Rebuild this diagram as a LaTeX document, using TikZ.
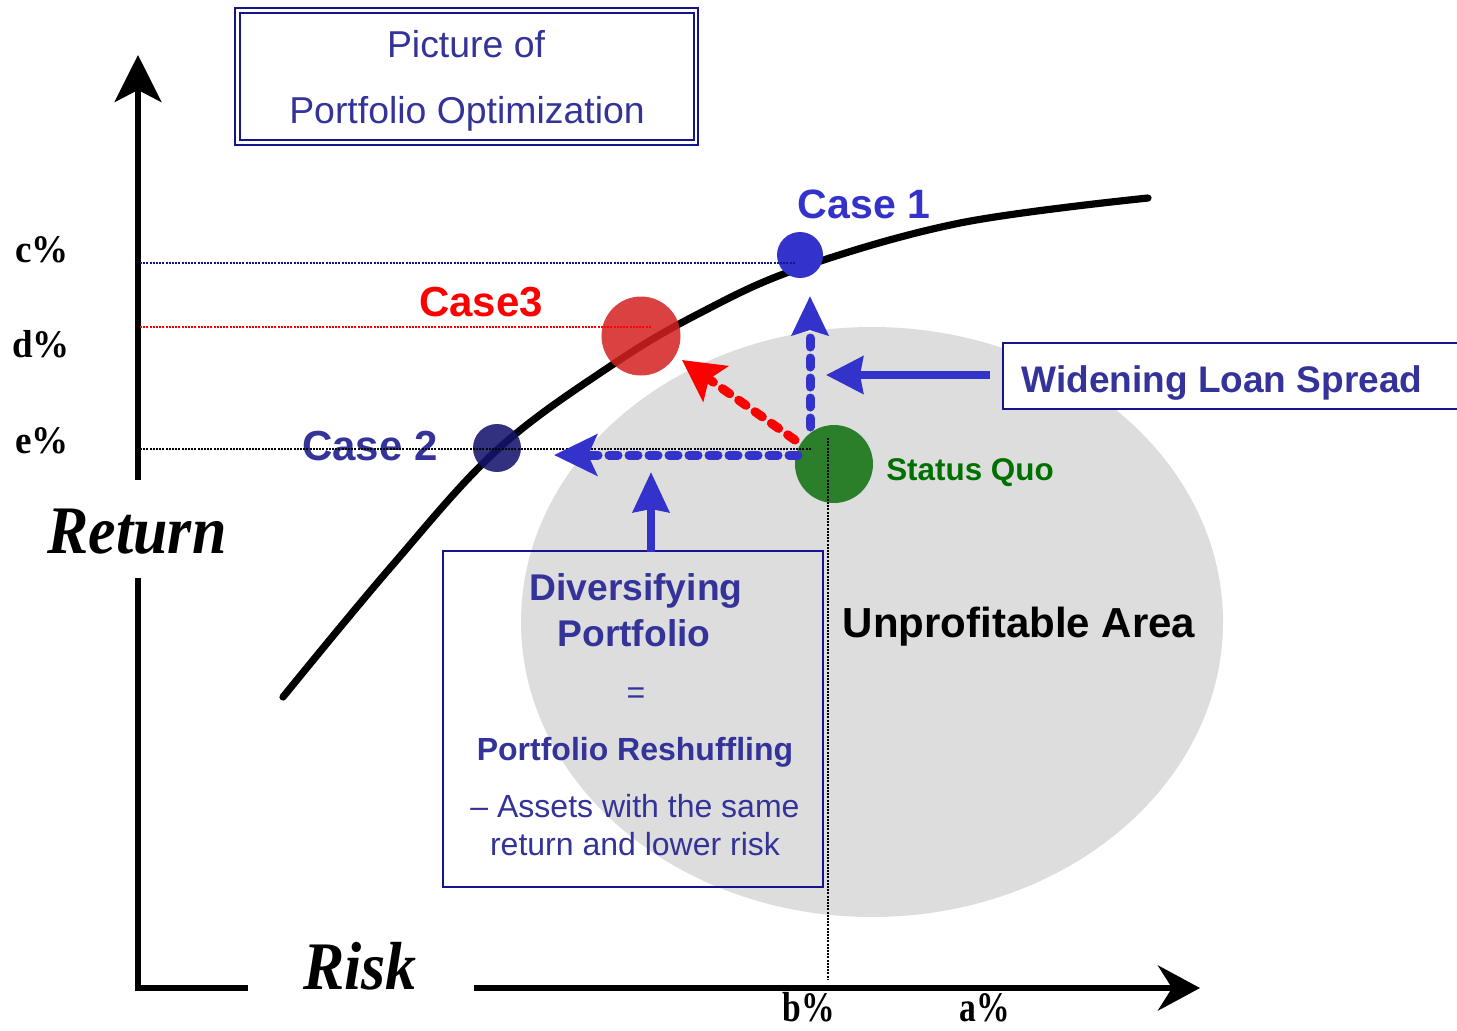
\documentclass[tikz,border=0pt]{standalone}
\usepackage{fontspec}
\usepackage{graphicx}
\setmainfont{Liberation Sans}
\newfontfamily\tnr{Liberation Serif}
\usetikzlibrary{arrows.meta}
\definecolor{boxnavy}{RGB}{20,20,140}
\definecolor{txtblue}{RGB}{51,51,153}
\definecolor{brightblue}{RGB}{51,51,204}
\definecolor{circred}{RGB}{212,32,32}
\definecolor{circnavy}{RGB}{20,20,110}
\definecolor{circgreen}{RGB}{28,120,28}
\definecolor{sqgreen}{RGB}{0,112,0}
\definecolor{areagray}{RGB}{221,221,221}
\newcommand\myfs[1]{\fontsize{#1}{#1}\selectfont}
\tikzset{
  txt/.style={inner sep=0pt, anchor=base},
  guide/.style={line width=0.65pt, dash pattern=on 1pt off 0.6pt},
  dasharrow/.style={line width=4.5pt, line cap=round, dash pattern=on 4.5pt off 5.5pt},
  solidarrow/.style={line width=3.8pt, color=brightblue},
  axis/.style={line width=3.2pt, black, line join=miter},
  dot/.style={circle, inner sep=0pt, draw=none},
}
\begin{document}
\begin{tikzpicture}[x=0.5pt,y=-0.5pt]
\useasboundingbox (0,0) rectangle (1457,1030);

% unprofitable area
\fill[areagray] (872,622) ellipse [x radius=351, y radius=295];

% title box
\draw[boxnavy, line width=1.1pt] (235,8) rectangle (698,145);
\draw[boxnavy, line width=1.1pt] (240,13) rectangle (694,140);
\node[txt, txtblue, font=\myfs{18.7}] (t1) at (466,57) {Picture of};
\node[txt, txtblue, font=\myfs{18.7}] (t2) at (467,123) {Portfolio Optimization};

% axes
\coordinate (ytop) at (138,55);
\coordinate (ygap1) at (138,480);
\coordinate (ygap2) at (138,578);
\coordinate (origin) at (138,988);
\coordinate (xgap1) at (248,988);
\coordinate (xgap2) at (474,988);
\coordinate (xtip) at (1200,988);
\draw[axis, -{Stealth[length=23.5pt, width=23.5pt, inset=6pt]}] (ygap1) -- (ytop);
\draw[axis] (ygap2) -- (origin) -- (xgap1);
\draw[axis, -{Stealth[length=21pt, width=22.5pt, inset=7pt]}] (xgap2) -- (xtip);

\node[txt, font={\tnr\bfseries\itshape\myfs{34}}] (ret) at (137,553) {\scalebox{0.91}[1]{Return}};
\node[txt, font={\tnr\bfseries\itshape\myfs{34}}] (risk) at (360,989) {\scalebox{0.91}[1]{Risk}};
\node[txt, font={\tnr\bfseries\myfs{19.5}}] (lc) at (42,262) {\scalebox{0.95}[1]{c\%}};
\node[txt, font={\tnr\bfseries\myfs{19.5}}] (ld) at (41,357) {\scalebox{0.95}[1]{d\%}};
\node[txt, font={\tnr\bfseries\myfs{19.5}}] (le) at (42,453) {\scalebox{0.95}[1]{e\%}};
\node[txt, font={\tnr\bfseries\myfs{21}}] (lb) at (809,1021) {\scalebox{0.8}[1]{b\%}};
\node[txt, font={\tnr\bfseries\myfs{21}}] (la) at (985,1021) {\scalebox{0.8}[1]{a\%}};

% Case 2 label (under guide line)
\node[txt, txtblue, font={\bfseries\myfs{21}}] (c2l) at (370,460) {Case 2};

% efficient frontier
\draw[line width=3.6pt, line cap=round] plot[smooth, tension=0.6] coordinates
  {(283,697) (390,568) (497,450) (612,365) (700,313) (800,268) (960,223) (1148,198)};

% circles
\node[dot, fill=brightblue, minimum size=23pt] (case1) at (800,255) {};
\node[dot, fill=circred, fill opacity=0.85, minimum size=39.5pt] (case3) at (641,336) {};
\node[dot, fill=circnavy, fill opacity=0.88, minimum size=24pt] (case2) at (497,448) {};
\node[dot, fill=circgreen, fill opacity=0.92, minimum size=39pt] (sq) at (834,464) {};

% guide lines
\coordinate (gc0) at (140,263); \coordinate (gc1) at (796,263);
\coordinate (gd0) at (140,327); \coordinate (gd1) at (652,327);
\coordinate (ge0) at (140,449); \coordinate (ge1) at (812,449);
\coordinate (gv0) at (828,438); \coordinate (gv1) at (828,980);
\draw[guide, boxnavy] (gc0) -- (gc1);
\draw[guide, red] (gd0) -- (gd1);
\draw[guide, black] (ge0) -- (ge1);
\draw[guide, black] (gv0) -- (gv1);

% dashed arrows from status quo
\coordinate (hs) at (798,455); \coordinate (ht) at (554,455);
\coordinate (vs) at (810,427); \coordinate (vt) at (810,296);
\coordinate (rs) at (795,440); \coordinate (rt) at (682,360);
\draw[dasharrow, brightblue, -{Stealth[length=21.5pt, width=20.5pt, inset=4.5pt]}] (hs) -- (ht);
\draw[dasharrow, brightblue, -{Stealth[length=19.5pt, width=18pt, inset=2.5pt]}] (vs) -- (vt);
\draw[dasharrow, red, -{Stealth[length=20.5pt, width=21.5pt, inset=4pt]}] (rs) -- (rt);

% Widening Loan Spread box
\filldraw[draw=boxnavy, fill=white, line width=1pt] (1457,343) -- (1003,343) -- (1003,409) -- (1457,409);
\node[txt, txtblue, font={\bfseries\myfs{18.5}}] (wls) at (1222,392) {Widening Loan Spread};
\coordinate (wa0) at (990,375); \coordinate (wa1) at (826,375);
\draw[solidarrow, -{Stealth[length=18.5pt, width=18.5pt, inset=1.5pt]}] (wa0) -- (wa1);

% Diversifying box
\draw[boxnavy, line width=0.9pt] (443,551) rectangle (823,887);
\coordinate (da0) at (651,552); \coordinate (da1) at (651,472);
\draw[solidarrow, -{Stealth[length=20pt, width=18pt, inset=1.5pt]}] (da0) -- (da1);
\node[txt, txtblue, font={\bfseries\myfs{18.6}}] (dv1) at (636,600) {Diversifying};
\node[txt, txtblue, font={\bfseries\myfs{18.6}}] (dv2) at (634,646) {Portfolio};
\node[txt, txtblue, font={\myfs{16}}] (dv3) at (636,703) {=};
\node[txt, txtblue, font={\bfseries\myfs{16}}] (dv4) at (635,760) {Portfolio Reshuffling};
\node[txt, txtblue, font={\myfs{16}}] (dv5) at (635,817) {– Assets with the same};
\node[txt, txtblue, font={\myfs{16}}] (dv6) at (635,855) {return and lower risk};

% labels
\node[txt, brightblue, font={\bfseries\myfs{20.5}}] (c1l) at (864,218) {Case 1};
\node[txt, red, font={\bfseries\myfs{21}}] (c3l) at (481,316) {Case3};
\node[txt, sqgreen, font={\bfseries\myfs{15.7}}] (sql) at (970,480) {Status Quo};
\node[txt, black, font={\bfseries\myfs{21}}] (ual) at (1019,637) {Unprofitable Area};
\end{tikzpicture}
\end{document}
